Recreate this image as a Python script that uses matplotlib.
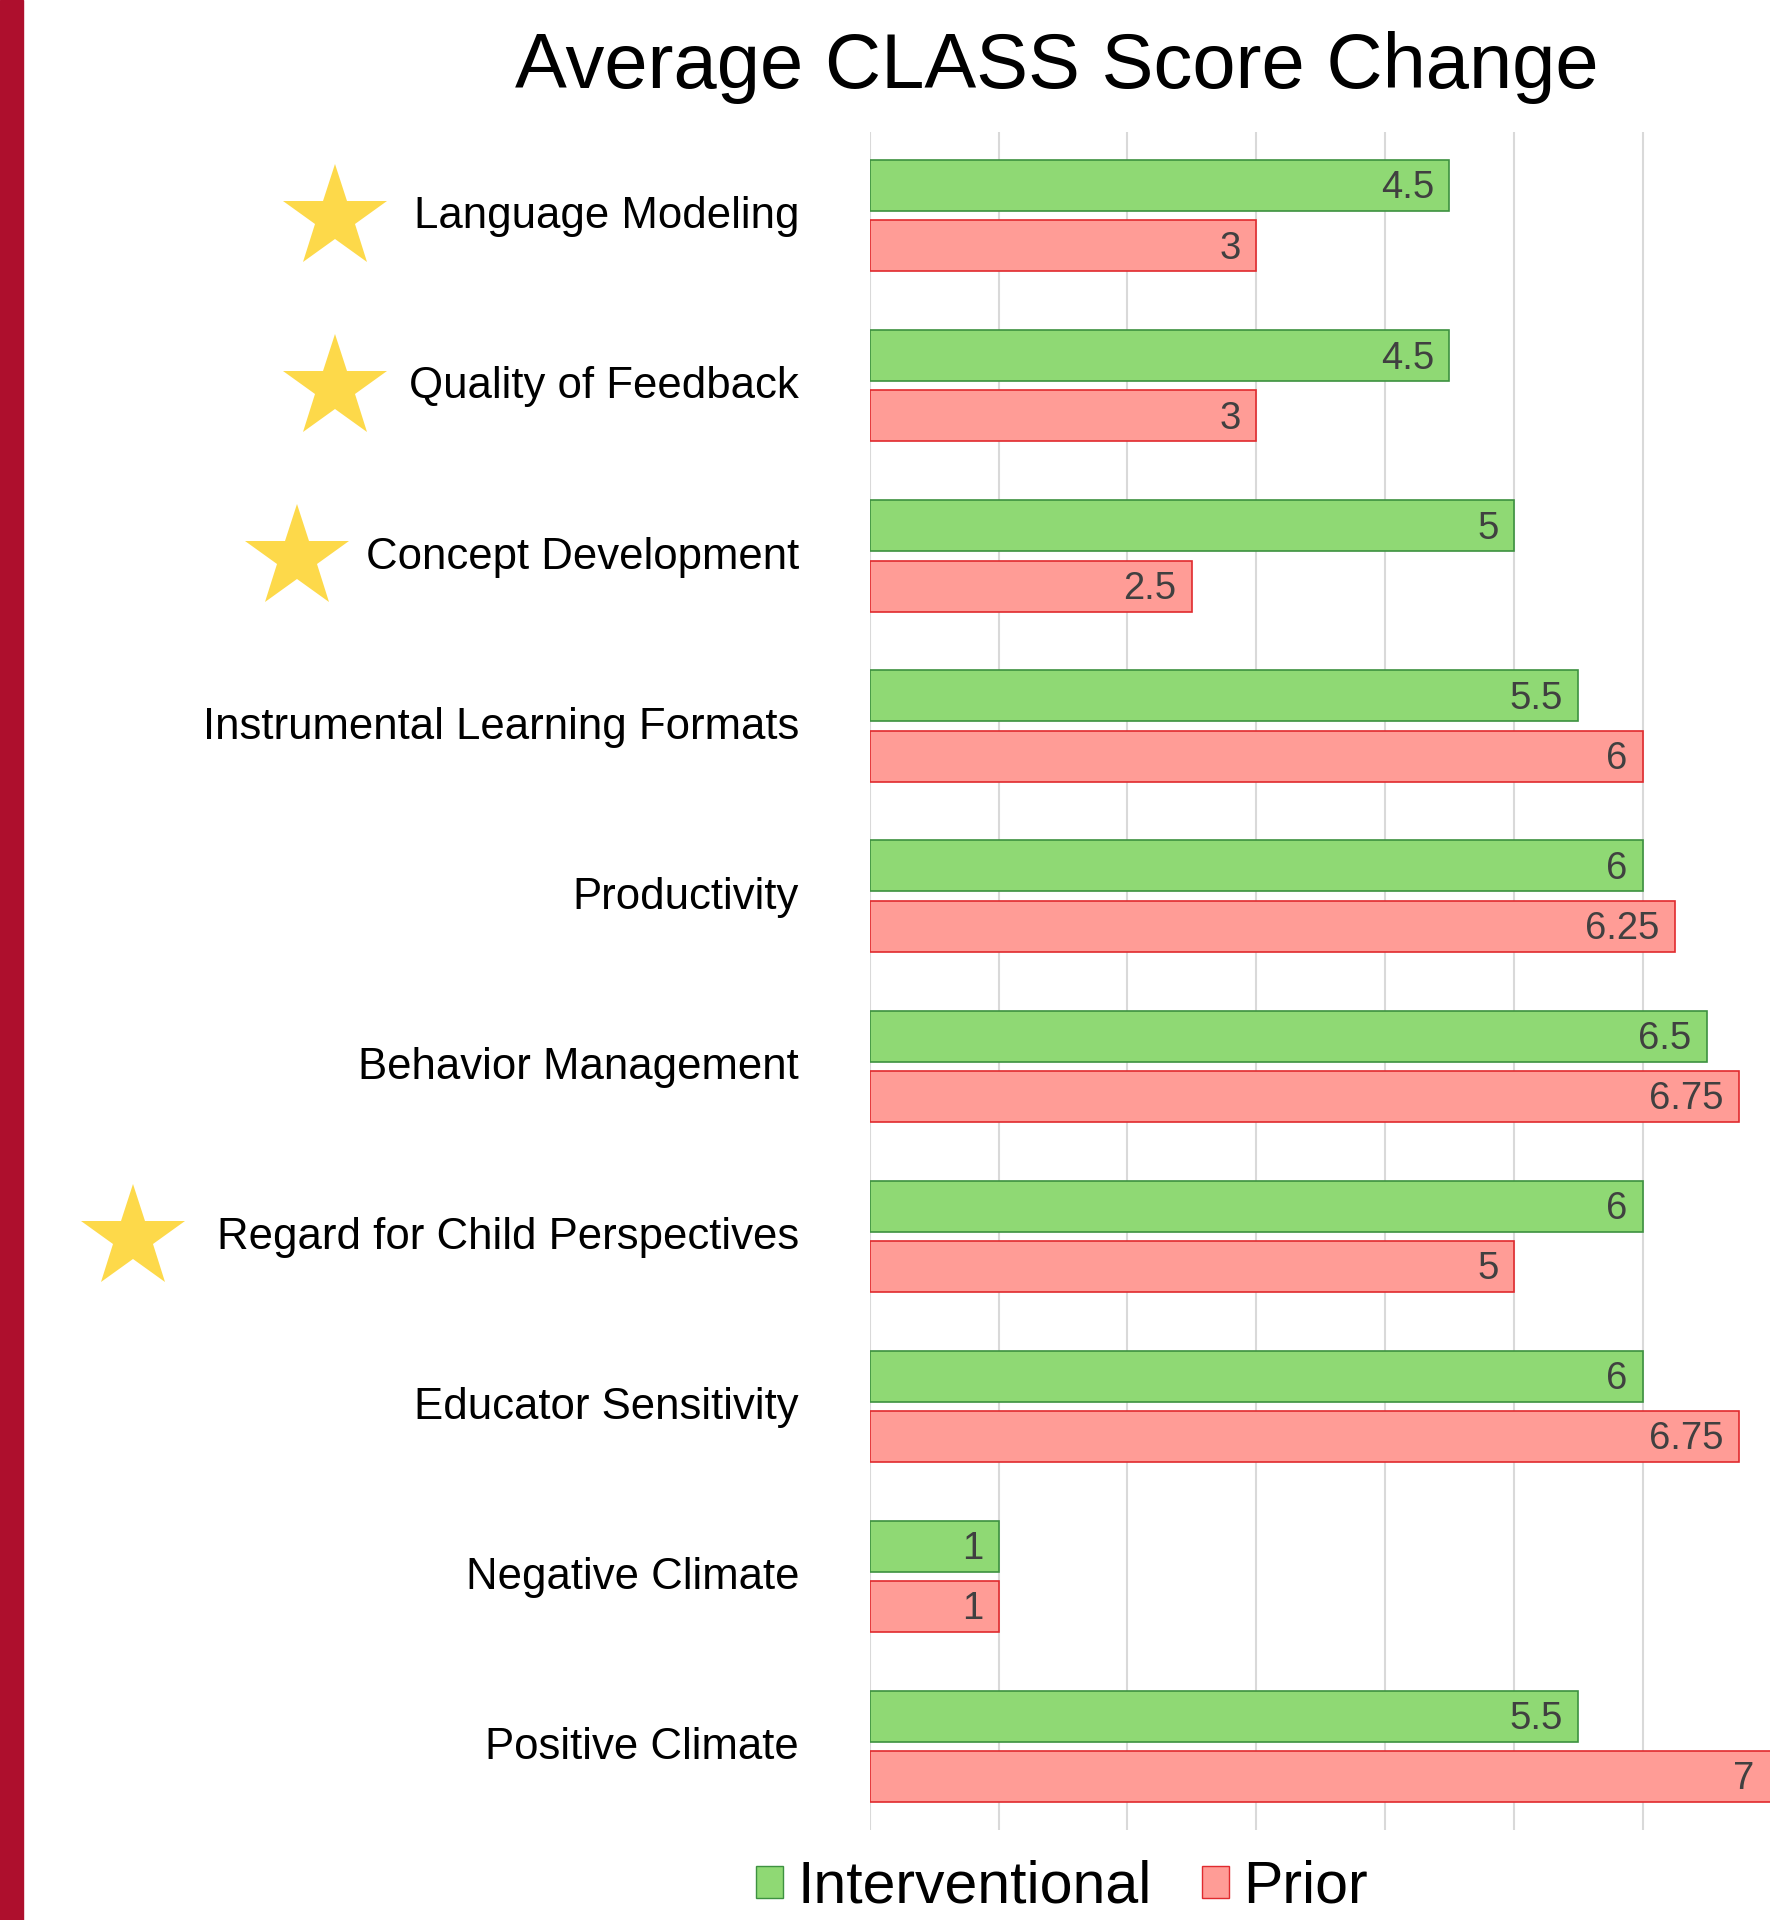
import numpy as np
import matplotlib
matplotlib.use("Agg")
import matplotlib.pyplot as plt
from matplotlib.patches import Patch, Rectangle
from matplotlib.transforms import blended_transform_factory

plt.rcParams['font.family'] = ['Liberation Sans', 'DejaVu Sans']

# data, top to bottom
categories = ['Language Modeling', 'Quality of Feedback', 'Concept Development',
              'Instrumental Learning Formats', 'Productivity', 'Behavior Management',
              'Regard for Child Perspectives', 'Educator Sensitivity',
              'Negative Climate', 'Positive Climate']
interventional = [4.5, 4.5, 5, 5.5, 6, 6.5, 6, 6, 1, 5.5]
prior = [3, 3, 2.5, 6, 6.25, 6.75, 5, 6.75, 1, 7]
starred = ['Language Modeling', 'Quality of Feedback', 'Concept Development',
           'Regard for Child Perspectives']

green, green_edge = '#8fd974', '#3d9140'
red, red_edge = '#ff9c96', '#e02a2e'

fig = plt.figure(figsize=(17.7, 19.2), dpi=100)
ax = fig.add_axes([0.4915, 0.047, 0.5085, 0.884])

y = np.arange(len(categories))
h = 0.30
off = 0.177
b1 = ax.barh(y - off, interventional, height=h, color=green, edgecolor=green_edge, linewidth=1.2, zorder=3)
b2 = ax.barh(y + off, prior, height=h, color=red, edgecolor=red_edge, linewidth=1.2, zorder=3)

for bars, vals in [(b1, interventional), (b2, prior)]:
    for bar, v in zip(bars, vals):
        ax.annotate('{:g}'.format(v), (min(v, 6.99), bar.get_y() + bar.get_height() / 2),
                    xytext=(-11, -2), textcoords='offset points', annotation_clip=False,
                    ha='right', va='center', fontsize=27.5, color='#404040', zorder=4)

ax.set_xlim(0, 6.99)
ax.set_ylim(len(categories) - 0.51, -0.49)
ax.set_xticks(range(0, 7))
ax.xaxis.grid(True, color='#d9d9d9', linewidth=1.5, zorder=0)
ax.tick_params(axis='x', length=0, labelbottom=False)
ax.set_yticks(y - 0.02)
ax.set_yticklabels(categories, fontsize=31.5)
ax.tick_params(axis='y', length=0, pad=51)
for s in ax.spines.values():
    s.set_visible(False)

fig.text(0.597, 0.954, 'Average CLASS Score Change', fontsize=56, ha='center', va='baseline')

handles = [Patch(facecolor=green, edgecolor=green_edge, label='Interventional'),
           Patch(facecolor=red, edgecolor=red_edge, label='Prior')]
fig.legend(handles=handles, loc='center', bbox_to_anchor=(0.6, 0.017), ncol=2,
           frameon=False, fontsize=42.5, handlelength=0.45, handleheight=0.45,
           handletextpad=0.25, columnspacing=0.85)

# red strip on the left edge
fig.patches.append(Rectangle((0, 0), 0.013, 1, transform=fig.transFigure,
                             color='#ae0f2d', zorder=5))

# stars next to the highlighted labels (x in figure fraction)
star_x = {'Language Modeling': 0.189, 'Quality of Feedback': 0.189,
          'Concept Development': 0.168, 'Regard for Child Perspectives': 0.075}
tr = blended_transform_factory(fig.transFigure, ax.transData)
for name in starred:
    yy = categories.index(name)
    ax.plot(star_x[name], yy + 0.01, marker='*', markersize=78, color='#fdd94a',
            markeredgewidth=0, transform=tr, clip_on=False)

fig.savefig('out.png', dpi=100)
